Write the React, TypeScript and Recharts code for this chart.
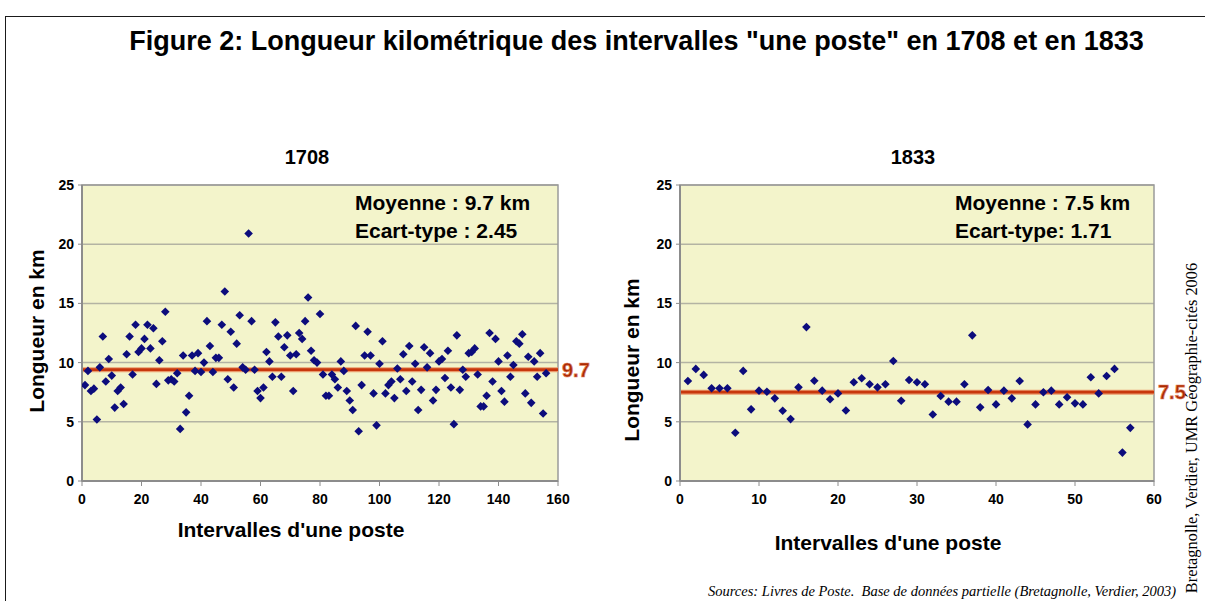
import { ScatterChart, Scatter, XAxis, YAxis, CartesianGrid, ReferenceLine, ReferenceArea } from 'recharts'

// Longueur (km) de chaque intervalle "une poste", dans l'ordre des intervalles (1, 2, 3...)
const lengths1708 = [
  8.1, 9.3, 7.6, 7.8, 5.2, 9.6, 12.2, 8.4, 10.3, 8.9,
  6.2, 7.6, 7.9, 6.5, 10.7, 12.2, 9.0, 13.2, 10.9, 11.2,
  12.0, 13.2, 11.2, 12.9, 8.2, 10.2, 11.8, 14.3, 8.5, 8.6,
  8.4, 9.1, 4.4, 10.6, 5.8, 7.2, 10.6, 9.3, 10.8, 9.2,
  10.0, 13.5, 11.4, 9.2, 10.4, 10.4, 13.2, 16.0, 8.6, 12.6,
  7.9, 11.6, 14.0, 9.6, 9.4, 20.9, 13.5, 9.4, 7.6, 7.0,
  7.9, 10.9, 10.1, 8.8, 13.4, 12.2, 8.8, 11.3, 12.3, 10.6,
  7.6, 10.7, 12.5, 12.0, 13.5, 15.5, 11.0, 10.2, 10.0, 14.1,
  9.0, 7.2, 7.2, 9.0, 8.6, 7.9, 10.1, 9.3, 7.6, 6.8,
  6.0, 13.1, 4.2, 8.1, 10.6, 12.6, 10.6, 7.4, 4.7, 9.9,
  11.8, 7.4, 8.1, 8.4, 7.0, 9.5, 8.6, 10.7, 7.6, 11.4,
  8.4, 9.9, 6.0, 7.7, 11.3, 9.6, 10.8, 6.8, 7.7, 10.1,
  10.3, 8.7, 11.0, 7.9, 4.8, 12.3, 7.7, 9.4, 8.8, 10.8,
  10.9, 11.2, 9.0, 6.3, 6.3, 7.2, 12.5, 8.4, 12.0, 10.1,
  7.6, 6.7, 10.6, 8.8, 9.8, 11.8, 11.6, 12.4, 7.4, 10.5,
  6.6, 10.1, 8.8, 10.8, 5.7, 9.1,
]
const lengths1833 = [
  8.45, 9.47, 8.96, 7.83, 7.83, 7.83, 4.07, 9.3, 6.05, 7.63,
  7.54, 6.98, 5.93, 5.23, 7.91, 13.0, 8.47, 7.63, 6.9, 7.4,
  5.96, 8.34, 8.68, 8.17, 7.91, 8.17, 10.14, 6.78, 8.53, 8.34,
  8.17, 5.62, 7.18, 6.7, 6.7, 8.17, 12.3, 6.22, 7.69, 6.47,
  7.63, 6.98, 8.45, 4.78, 6.47, 7.49, 7.63, 6.47, 7.07, 6.56,
  6.47, 8.76, 7.4, 8.87, 9.47, 2.4, 4.49,
]

const xTicks1708 = [0, 20, 40, 60, 80, 100, 120, 140, 160]
const xTicks1833 = [0, 10, 20, 30, 40, 50, 60]
const yTicks = [0, 5, 10, 15, 20, 25]

// position of the red mean line as drawn, and the printed value
const meanLine1708 = 9.4
const meanLabel1708 = '9.7'
const meanLine1833 = 7.5
const meanLabel1833 = '7.5'

const stats1708 = ['Moyenne : 9.7 km', 'Ecart-type : 2.45']
const stats1833 = ['Moyenne : 7.5 km', 'Ecart-type: 1.71']

const SANS = '"Liberation Sans", Arial, sans-serif'
const SERIF = '"Liberation Serif", "Times New Roman", serif'

const Diamond = (props: any) => {
  const { cx, cy } = props
  if (cx == null || cy == null) return null
  const r = 4.3
  return (
    <polygon
      points={`${cx},${cy - r} ${cx + r},${cy} ${cx},${cy + r} ${cx - r},${cy}`}
      fill="#0c0c7c"
    />
  )
}

interface PanelProps {
  left: number
  rightMargin: number
  values: number[]
  xMax: number
  xTicks: number[]
  meanLine: number
  meanLabel: string
}

function Panel({ left, rightMargin, values, xMax, xTicks, meanLine, meanLabel }: PanelProps) {
  const data = values.map((v, i) => ({ x: i + 1, y: v }))
  const tickStyle = { fill: '#000', fontSize: 14, fontWeight: 'bold', fontFamily: SANS }
  return (
    <div style={{ position: 'absolute', left, top: 0 }}>
      <ScatterChart width={600} height={601} margin={{ top: 185, right: rightMargin, bottom: 90, left: 22 }}>
        <CartesianGrid vertical={false} fill="#F3F4CB" stroke="#B3B3A3" strokeWidth={1.5} />
        <XAxis
          type="number"
          dataKey="x"
          domain={[0, xMax]}
          ticks={xTicks}
          interval={0}
          height={30}
          tick={tickStyle}
          tickSize={5}
          tickMargin={8}
          axisLine={{ stroke: '#8c8c8c', strokeWidth: 2 }}
          tickLine={{ stroke: '#8c8c8c' }}
          allowDataOverflow
        />
        <YAxis
          type="number"
          dataKey="y"
          domain={[0, 25]}
          ticks={yTicks}
          interval={0}
          width={60}
          tick={tickStyle}
          tickSize={4}
          tickMargin={4}
          axisLine={{ stroke: '#8c8c8c', strokeWidth: 2 }}
          tickLine={{ stroke: '#8c8c8c' }}
          allowDataOverflow
        />
        <ReferenceArea x1={0} x2={xMax} y1={0} y2={25} fill="none" stroke="#9a9a9a" strokeWidth={1.5} />
        <ReferenceLine y={meanLine} stroke="#EA9A6C" strokeWidth={5} />
        <ReferenceLine
          y={meanLine}
          stroke="#C8370C"
          strokeWidth={2.8}
          label={{
            value: meanLabel,
            position: 'right',
            offset: 4,
            fill: '#A82A05',
            stroke: '#E2825A',
            strokeWidth: 0.7,
            fontSize: 20,
            fontWeight: 'bold',
            fontFamily: SANS,
          }}
        />
        <Scatter data={data} shape={<Diamond />} isAnimationActive={false} />
      </ScatterChart>
    </div>
  )
}

const text = (extra: any) => ({
  position: 'absolute' as const,
  fontFamily: SANS,
  fontWeight: 'bold' as const,
  color: '#000',
  lineHeight: 1,
  whiteSpace: 'nowrap' as const,
  ...extra,
})

export default function App() {
  return (
    <div style={{ position: 'absolute', left: 0, top: 0, width: 1205, height: 601, background: '#fff', overflow: 'hidden' }}>
      <div style={{ position: 'absolute', left: 5, top: 16, width: 1210, height: 600, borderTop: '1.5px solid #1a1a1a', borderLeft: '1.5px solid #1a1a1a' }} />

      <div style={text({ left: 0, top: 28, width: 1273, textAlign: 'center', fontSize: 27 })}>
        Figure 2: Longueur kilométrique des intervalles "une poste" en 1708 et en 1833
      </div>

      <Panel left={0} rightMargin={42} values={lengths1708} xMax={160} xTicks={xTicks1708} meanLine={meanLine1708} meanLabel={meanLabel1708} />
      <Panel left={598} rightMargin={44} values={lengths1833} xMax={60} xTicks={xTicks1833} meanLine={meanLine1833} meanLabel={meanLabel1833} />

      <div style={text({ left: 207, top: 147, width: 200, textAlign: 'center', fontSize: 20 })}>1708</div>
      <div style={text({ left: 813, top: 147, width: 200, textAlign: 'center', fontSize: 20 })}>1833</div>

      <div style={text({ left: 355, top: 192, fontSize: 21 })}>{stats1708[0]}</div>
      <div style={text({ left: 355, top: 220, fontSize: 21 })}>{stats1708[1]}</div>
      <div style={text({ left: 955, top: 192, fontSize: 21 })}>{stats1833[0]}</div>
      <div style={text({ left: 955, top: 220, fontSize: 21 })}>{stats1833[1]}</div>

      <div style={text({ left: -63, top: 319, width: 200, height: 24, lineHeight: '24px', textAlign: 'center', fontSize: 21, transform: 'rotate(-90deg)' })}>
        Longueur en km
      </div>
      <div style={text({ left: 532, top: 348, width: 200, height: 24, lineHeight: '24px', textAlign: 'center', fontSize: 21, transform: 'rotate(-90deg)' })}>
        Longueur en km
      </div>

      <div style={text({ left: 141, top: 519, width: 300, textAlign: 'center', fontSize: 21 })}>Intervalles d'une poste</div>
      <div style={text({ left: 738, top: 532, width: 300, textAlign: 'center', fontSize: 21 })}>Intervalles d'une poste</div>

      <div style={{ position: 'absolute', left: 708, top: 584, fontFamily: SERIF, fontStyle: 'italic', fontSize: 14.5, lineHeight: 1, whiteSpace: 'pre', color: '#000' }}>
        {'Sources: Livres de Poste.  Base de données partielle (Bretagnolle, Verdier, 2003)'}
      </div>

      <div style={{ position: 'absolute', left: 1012, top: 419, width: 360, height: 18, lineHeight: '18px', textAlign: 'center', fontFamily: SERIF, fontSize: 16.4, whiteSpace: 'nowrap', color: '#000', transform: 'rotate(-90deg)' }}>
        Bretagnolle, Verdier, UMR Géographie-cités 2006
      </div>
    </div>
  )
}
